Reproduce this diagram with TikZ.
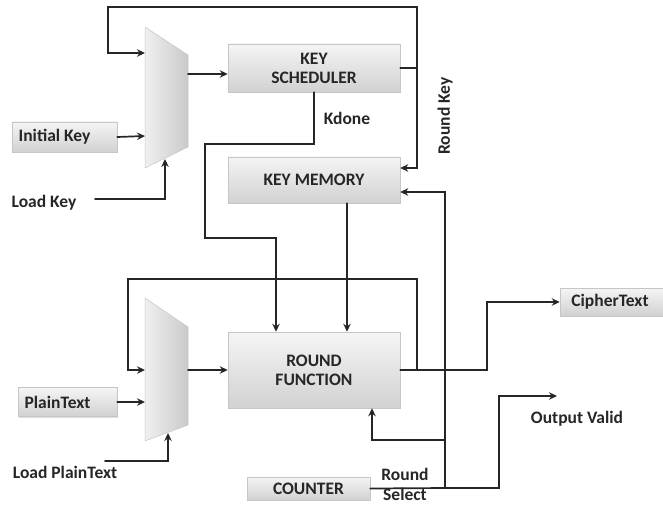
\documentclass[tikz,border=0pt]{standalone}
\usepackage{fontspec}
\setmainfont{Carlito}
\usepackage{tikz}
\usetikzlibrary{arrows.meta,shadows}
\usepackage{xcolor}

\begin{document}
\begin{tikzpicture}[x=1pt,y=1pt,>={Stealth[length=8pt,width=7.5pt]},
  font=\fontsize{17.5}{19}\selectfont\bfseries,line cap=round,
  blk/.style={draw=gray!45,line width=0.5pt,top color=gray!8,bottom color=gray!36,
    inner sep=0pt,align=center,text=black!85,
    drop shadow={opacity=0.25,shadow xshift=1.2pt,shadow yshift=-1.2pt}},
  muxshape/.style={draw=gray!45,line width=0.5pt,left color=gray!12,right color=gray!42},
  wire/.style={line width=1.7pt,black!85},
  lbl/.style={text=black!85,inner sep=0pt,align=center}]
\useasboundingbox (0,0) rectangle (663,504);

% two input multiplexers
\path[muxshape] (145,477) -- (188,449) -- (188,357) -- (145,336) -- cycle;
\path[muxshape] (145,206) -- (188,177) -- (188,79) -- (145,63) -- cycle;
\coordinate (muxka) at (145,451);
\coordinate (muxkb) at (145,368);
\coordinate (muxksel) at (165,345);
\coordinate (muxkout) at (188,430);
\coordinate (muxpa) at (145,134);
\coordinate (muxpb) at (145,102);
\coordinate (muxpsel) at (168,71);
\coordinate (muxpout) at (188,134);

% blocks
\node[blk,minimum width=172,minimum height=48] (ks) at (314,436) {KEY\\SCHEDULER};
\node[blk,minimum width=172,minimum height=46] (km) at (314,324) {KEY MEMORY};
\node[blk,minimum width=172,minimum height=76] (rf) at (314,134) {ROUND\\FUNCTION};
\node[blk,minimum width=105,minimum height=30] (ik) at (64.5,367) {\hspace*{-20pt}Initial Key};
\node[blk,minimum width=99,minimum height=29] (pt) at (67.5,102) {\hspace*{-20pt}PlainText};
\node[blk,minimum width=104,minimum height=28] (ct) at (612,202) {\hspace*{-4pt}CipherText};
\node[blk,minimum width=123,minimum height=23] (ctr) at (308.5,15.5) {COUNTER};

% labels
\node[lbl] (lblkdone) at (347,386) {Kdone};
\node[lbl,rotate=90] (lblrk) at (445,388) {Round Key};
\node[lbl] (lbllk) at (44,301) {Load Key};
\node[lbl] (lbllp) at (65,32) {Load PlainText};
\node[lbl,font=\fontsize{17.5}{20}\selectfont\bfseries] (lblrs) at (405,20) {Round\\Select};
\node[lbl] (lblov) at (577,85) {Output Valid};

% key path
\coordinate (rk) at (417,436);
\draw[wire,->] (muxkout) -- (muxkout -| ks.west);
\draw[wire] (ks.east) -- (rk);
\draw[wire,->] (rk) |- (108,497) |- (muxka);
\draw[wire,->] (rk) |- ([yshift=12pt]km.east);
\draw[wire,->] (ik.east) -- (muxkb);
\coordinate (lk) at (95,305);
\draw[wire,->] (lk) -| (muxksel);
\draw[wire,->] (ks.south) |- (205,360) |- (276,266) -- ([xshift=-38pt]rf.north);
\draw[wire,->] ([xshift=33pt]km.south) -- ([xshift=33pt]rf.north);

% data path
\coordinate (fb) at (417,134);
\draw[wire,->] (muxpout) -- (rf.west);
\draw[wire,->] (rf.east) -- (487,134) |- (ct.west);
\draw[wire,->] (fb) |- (128,225) |- (muxpa);
\draw[wire,->] (pt.east) -- (muxpb);
\coordinate (lp) at (105,43);
\draw[wire,->] (lp) -| (muxpsel);

% round select
\coordinate (rs) at (445,16);
\coordinate (ov) at (557,108);
\draw[wire] (ctr.east) -- (rs);
\draw[wire,->] (rs) |- ([yshift=-12pt]km.east);
\draw[wire,->] (445,64) -| ([xshift=58pt]rf.south);
\draw[wire,->] (rs) -- (499,16) |- (ov);
\end{tikzpicture}
\end{document}
